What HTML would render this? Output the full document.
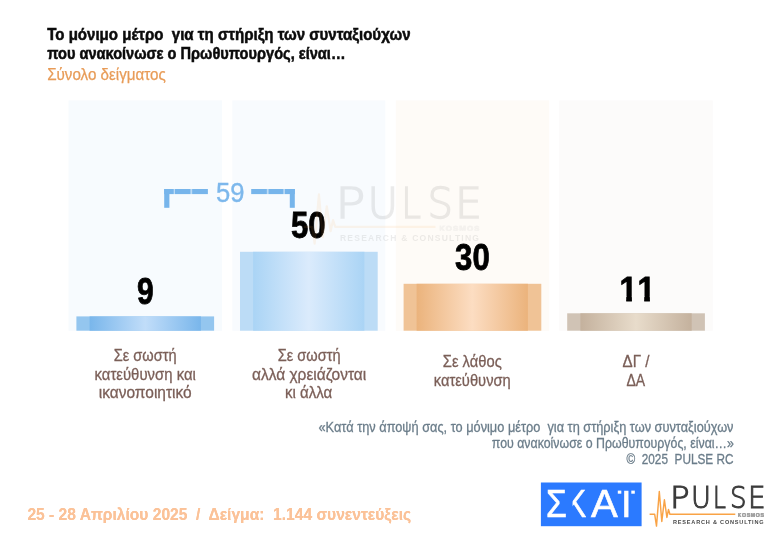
<!DOCTYPE html>
<html lang="el">
<head>
<meta charset="utf-8">
<title>Pulse RC</title>
<style>
html,body{margin:0;padding:0;background:#fff;}
body{width:780px;height:542px;overflow:hidden;position:relative;font-family:"Liberation Sans",sans-serif;}
svg{position:absolute;left:0;top:0;display:block;}
text{font-family:"Liberation Sans",sans-serif;}
.t{font-weight:bold;font-size:17.3px;fill:#0b0b0b;stroke:#0b0b0b;stroke-width:0.55px;}
.sub{font-size:16px;fill:#e89c58;stroke:#e89c58;stroke-width:0.25px;}
.num{font-weight:bold;font-size:36.4px;fill:#000;text-anchor:middle;stroke:#000;stroke-width:0.8px;}
.lab{font-size:16.4px;fill:#7b5f58;stroke:#7b5f58;stroke-width:0.3px;text-anchor:middle;}
.q{font-size:14.5px;fill:#6b7d8a;stroke:#6b7d8a;stroke-width:0.3px;text-anchor:end;}
.foot{font-weight:bold;font-size:16.2px;fill:#fbc298;filter:url(#glow);}
.logo{position:absolute;width:125px;height:50px;}
.logo svg{position:absolute;left:0;top:0;}
.logo span,.skai span{position:absolute;display:block;transform-origin:0 0;white-space:pre;}
.pw{font-family:"DejaVu Sans Light","DejaVu Sans","Liberation Sans",sans-serif;font-weight:200;color:#3b3b3b;-webkit-text-stroke:1.05px #3b3b3b;}
.kos{position:absolute;left:92.5px;top:32.6px;width:26.5px;height:4.6px;font-size:5.2px;line-height:4.6px;font-weight:bold;color:#9a9a9a;-webkit-text-stroke:0.6px #a0a0a0;letter-spacing:0.68px;white-space:nowrap;overflow:hidden;}
.rc{position:absolute;left:28.1px;top:38.4px;font-size:6.2px;line-height:7px;font-weight:bold;color:#4a4a4a;letter-spacing:0.88px;transform:scaleX(0.9);white-space:nowrap;transform-origin:0 0;}
.wm{position:absolute;left:296.5px;top:177.7px;width:125px;height:50px;transform-origin:0 0;transform:scale(1.534,1.425);opacity:0.098;}
.wm .logo{left:0;top:0;}
.skai{-webkit-text-stroke:0.6px #fff;position:absolute;left:540.9px;top:482.3px;width:100.6px;height:43.8px;color:#fff;font-family:"Liberation Sans",sans-serif;overflow:hidden;}
.skai i{position:absolute;display:block;background:#fff;width:3.2px;height:3.2px;top:7.4px;}
.skai .d1{left:77.2px;}
.skai .d2{left:90.6px;}
</style>
</head>
<body>
<svg width="780" height="542" viewBox="0 0 780 542">
<defs>
<linearGradient id="g1" x1="0" x2="1" y1="0" y2="0">
<stop offset="0" stop-color="#79b6eb"/><stop offset="0.5" stop-color="#c1ddf9"/><stop offset="1" stop-color="#79b6eb"/>
</linearGradient>
<linearGradient id="g2" x1="0" x2="1" y1="0" y2="0">
<stop offset="0" stop-color="#aad4f5"/><stop offset="0.5" stop-color="#dbebfc"/><stop offset="1" stop-color="#aad4f5"/>
</linearGradient>
<linearGradient id="g3" x1="0" x2="1" y1="0" y2="0">
<stop offset="0" stop-color="#ebb37c"/><stop offset="0.5" stop-color="#fcddc2"/><stop offset="1" stop-color="#ebb37c"/>
</linearGradient>
<linearGradient id="g4" x1="0" x2="1" y1="0" y2="0">
<stop offset="0" stop-color="#c4b19d"/><stop offset="0.5" stop-color="#e8dccb"/><stop offset="1" stop-color="#c4b19d"/>
</linearGradient>
<filter id="glow" x="-5%" y="-40%" width="110%" height="180%">
<feGaussianBlur in="SourceGraphic" stdDeviation="0.75" result="b"/>
<feMerge><feMergeNode in="b"/><feMergeNode in="SourceGraphic"/></feMerge>
</filter>
<clipPath id="c11" clipPathUnits="userSpaceOnUse">
<rect x="600" y="260" width="70" height="35.9"/>
<rect x="626.2" y="295" width="5.7" height="8"/>
<rect x="644.2" y="295" width="5.7" height="8"/>
</clipPath>
</defs>

<!-- panels -->
<rect x="68.5" y="100.4" width="153.5" height="230.4" fill="#f7fbfe"/>
<rect x="232.3" y="100.4" width="153" height="230.4" fill="#f8fbfe"/>
<rect x="395.8" y="100.4" width="153.4" height="230.4" fill="#fefbf7"/>
<rect x="559.2" y="100.4" width="153.6" height="230.4" fill="#fcfbfa"/>

<!-- bars -->
<rect x="76.4" y="316.4" width="137.7" height="14.3" fill="#94c6ef"/>
<rect x="89.6" y="316.4" width="111.3" height="14.3" fill="url(#g1)"/>
<rect x="240" y="251.8" width="137.7" height="78.9" fill="#bcdcf6"/>
<rect x="253.1" y="251.8" width="111.3" height="78.9" fill="url(#g2)"/>
<rect x="403.6" y="283.8" width="137.7" height="46.9" fill="#f0c396"/>
<rect x="416.6" y="283.8" width="111.3" height="46.9" fill="url(#g3)"/>
<rect x="567.2" y="313.3" width="137.7" height="17.4" fill="#d0c3b5"/>
<rect x="580.4" y="313.3" width="111.3" height="17.4" fill="url(#g4)"/>

<!-- title -->
<text class="t" x="47.2" y="39.5" textLength="363.4" lengthAdjust="spacingAndGlyphs" xml:space="preserve">Το μόνιμο μέτρο  για τη στήριξη των συνταξιούχων</text>
<text class="t" x="47.2" y="59.4" textLength="298.3" lengthAdjust="spacingAndGlyphs">που ανακοίνωσε ο Πρωθυπουργός, είναι…</text>
<text class="sub" x="47.2" y="80.2" textLength="118.6" lengthAdjust="spacingAndGlyphs">Σύνολο δείγματος</text>

<!-- bracket -->
<g fill="#77b5eb">
<rect x="164.2" y="189" width="5.2" height="18.8"/>
<rect x="164.2" y="189" width="9.6" height="5.1"/>
<rect x="175" y="189" width="15.6" height="5.1"/>
<rect x="192.1" y="189" width="15.8" height="5.1"/>
<rect x="251.2" y="189" width="15.7" height="5.1"/>
<rect x="268.4" y="189" width="15.1" height="5.1"/>
<rect x="284.8" y="189" width="10" height="5.1"/>
<rect x="289.8" y="189" width="5" height="18.8"/>
</g>
<g fill="#77b5eb" opacity="0.45">
<rect x="173.8" y="189" width="1.2" height="5.1"/>
<rect x="190.6" y="189" width="1.5" height="5.1"/>
<rect x="266.9" y="189" width="1.5" height="5.1"/>
<rect x="283.5" y="189" width="1.3" height="5.1"/>
</g>
<text x="230.3" y="201.6" font-size="27" fill="#7db8ec" stroke="#7db8ec" stroke-width="0.35" text-anchor="middle" textLength="28.5" lengthAdjust="spacingAndGlyphs">59</text>

<!-- numbers -->
<text class="num" x="145.3" y="303.7" textLength="16.7" lengthAdjust="spacingAndGlyphs">9</text>
<text class="num" x="308.3" y="237.7" textLength="34.6" lengthAdjust="spacingAndGlyphs">50</text>
<text class="num" x="472.4" y="270" textLength="34.6" lengthAdjust="spacingAndGlyphs">30</text>
<g clip-path="url(#c11)"><text class="num" style="text-anchor:start;font-size:35.3px" transform="scale(0.9,1)" x="688.35 708.35" y="300.6">11</text></g>

<!-- labels -->
<text class="lab" x="145.2" y="360.5" textLength="62.9" lengthAdjust="spacingAndGlyphs">Σε σωστή</text>
<text class="lab" x="145.2" y="379.6" textLength="101.3" lengthAdjust="spacingAndGlyphs">κατεύθυνση και</text>
<text class="lab" x="145.2" y="398.4" textLength="93" lengthAdjust="spacingAndGlyphs">ικανοποιητικό</text>

<text class="lab" x="309.1" y="360.5" textLength="62.9" lengthAdjust="spacingAndGlyphs">Σε σωστή</text>
<text class="lab" x="309.1" y="379.6" textLength="114.2" lengthAdjust="spacingAndGlyphs">αλλά χρειάζονται</text>
<text class="lab" x="308.6" y="398.4" textLength="47.4" lengthAdjust="spacingAndGlyphs">κι άλλα</text>

<text class="lab" x="472.3" y="367" textLength="59" lengthAdjust="spacingAndGlyphs">Σε λάθος</text>
<text class="lab" x="472.3" y="385.6" textLength="77" lengthAdjust="spacingAndGlyphs">κατεύθυνση</text>

<text class="lab" x="636" y="367" textLength="26.9" lengthAdjust="spacingAndGlyphs">ΔΓ /</text>
<text class="lab" x="635.8" y="385.6" textLength="18.7" lengthAdjust="spacingAndGlyphs">ΔΑ</text>

<!-- question -->
<text class="q" x="733.5" y="432.2" textLength="415" lengthAdjust="spacingAndGlyphs" xml:space="preserve">«Κατά την άποψή σας, το μόνιμο μέτρο  για τη στήριξη των συνταξιούχων</text>
<text class="q" x="733.8" y="448.1" textLength="242" lengthAdjust="spacingAndGlyphs">που ανακοίνωσε ο Πρωθυπουργός, είναι…»</text>
<text class="q" x="733.5" y="463.6" textLength="107" lengthAdjust="spacingAndGlyphs" xml:space="preserve">©  2025  PULSE RC</text>

<!-- footer -->
<text class="foot" x="27.4" y="520.3" textLength="383.7" lengthAdjust="spacingAndGlyphs" xml:space="preserve">25 - 28 Απριλίου 2025  /  Δείγμα:  1.144 συνεντεύξεις</text>

<!-- SKAI logo plate -->
<rect x="540.9" y="482.5" width="100.7" height="43.7" fill="#2b7aff"/>
<rect x="617.8" y="490.6" width="3.5" height="3.1" fill="#fff"/>
<rect x="631.3" y="490.6" width="3.5" height="3.1" fill="#fff"/>
</svg>
<div class="wm"><div class="logo">
<svg width="125" height="50" viewBox="0 0 125 50"><path d="M4.6 34.3 H9.7 L11.5 46.1 L14.3 11.5 L16.8 41.5 L19.4 19.8 L21.9 37.4 L23.5 29.5 L24.9 34.3 H90.3" fill="none" stroke="#f9a346" stroke-width="1.45" stroke-linejoin="round" stroke-linecap="butt"/></svg>
<div class="pw"><span style="left:25.14px;top:3.47px;font-size:29.86px;line-height:29.86px;transform:scaleX(1.092);">P</span><span style="left:45.85px;top:3.47px;font-size:29.86px;line-height:29.86px;transform:scaleX(0.913);">U</span><span style="left:68.27px;top:3.47px;font-size:29.86px;line-height:29.86px;transform:scaleX(0.776);">L</span><span style="left:84.90px;top:3.47px;font-size:29.86px;line-height:29.86px;transform:scaleX(0.874);">S</span><span style="left:102.81px;top:3.47px;font-size:29.86px;line-height:29.86px;transform:scaleX(0.933);">E</span></div>
<div class="kos">KOSMOS</div>
<div class="rc">RESEARCH &amp; CONSULTING</div>
</div></div>
<div class="skai"><span style="left:5.41px;top:2.50px;font-size:38.12px;line-height:38.12px;transform:scaleX(0.886);">Σ</span><span style="left:24.85px;top:2.50px;font-size:38.12px;line-height:38.12px;transform:scaleX(0.793);clip-path:inset(0 0 0 32.5%);">Κ</span><span style="left:50.10px;top:2.50px;font-size:38.12px;line-height:38.12px;transform:scaleX(1.053);">Α</span><span style="left:80.28px;top:2.50px;font-size:38.12px;line-height:38.12px;transform:scaleX(0.997);clip-path:inset(15.5% 0 0 0);">Ϊ</span></div>
<div class="logo" style="left:645px;top:480px;">
<svg width="125" height="50" viewBox="0 0 125 50"><path d="M4.6 34.3 H9.7 L11.5 46.1 L14.3 11.5 L16.8 41.5 L19.4 19.8 L21.9 37.4 L23.5 29.5 L24.9 34.3 H90.3" fill="none" stroke="#f9a346" stroke-width="1.45" stroke-linejoin="round" stroke-linecap="butt"/></svg>
<div class="pw"><span style="left:25.14px;top:3.47px;font-size:29.86px;line-height:29.86px;transform:scaleX(1.092);">P</span><span style="left:45.85px;top:3.47px;font-size:29.86px;line-height:29.86px;transform:scaleX(0.913);">U</span><span style="left:68.27px;top:3.47px;font-size:29.86px;line-height:29.86px;transform:scaleX(0.776);">L</span><span style="left:84.90px;top:3.47px;font-size:29.86px;line-height:29.86px;transform:scaleX(0.874);">S</span><span style="left:102.81px;top:3.47px;font-size:29.86px;line-height:29.86px;transform:scaleX(0.933);">E</span></div>
<div class="kos">KOSMOS</div>
<div class="rc">RESEARCH &amp; CONSULTING</div>
</div>
</body>
</html>
